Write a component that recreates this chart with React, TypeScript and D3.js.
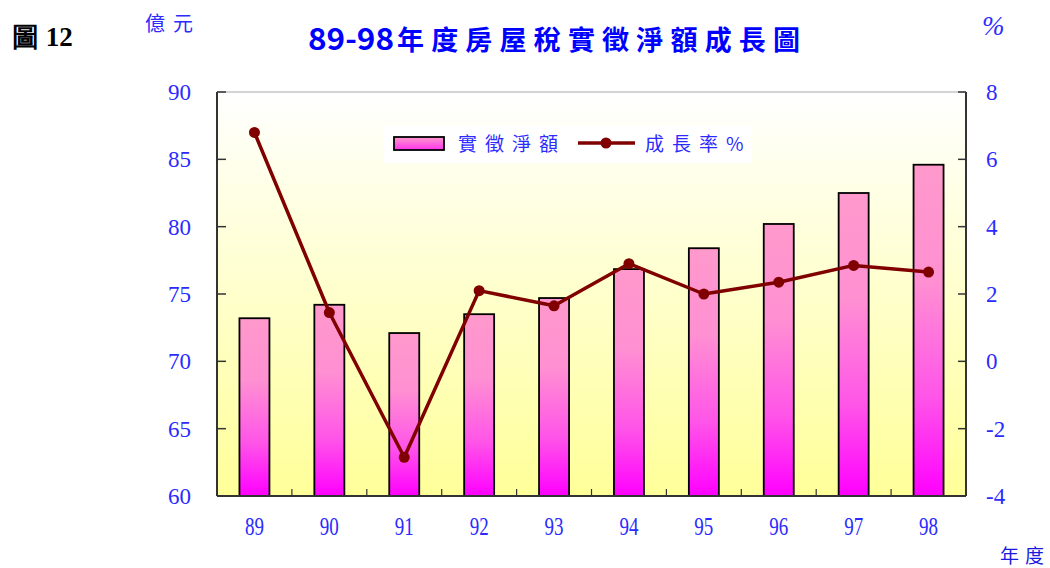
import React from "react";
import * as d3 from "d3";

const years = ["89", "90", "91", "92", "93", "94", "95", "96", "97", "98"];
const amounts = [73.2, 74.2, 72.1, 73.5, 74.7, 76.85, 78.4, 80.2, 82.5, 84.6];
const growth = [6.8, 1.45, -2.85, 2.1, 1.65, 2.9, 2.0, 2.35, 2.85, 2.65];
const leftTicks = [60, 65, 70, 75, 80, 85, 90];
const rightTicks = [-4, -2, 0, 2, 4, 6, 8];

const W = 1050, H = 568;
const L = 217, R = 966, T = 92, B = 496;
const blue = "#2b2bff";

export default function App() {
  const xb = d3.scaleBand<string>().domain(years).range([L, R]);
  const yL = d3.scaleLinear().domain([60, 90]).range([B, T]);
  const yR = d3.scaleLinear().domain([-4, 8]).range([B, T]);
  const cx = (yr: string) => (xb(yr) as number) + xb.bandwidth() / 2;
  const line = d3
    .line<number>()
    .x((_, i) => cx(years[i]))
    .y((d) => yR(d));

  return (
    <svg width={W} height={H} style={{ position: "absolute", left: 0, top: 0 }}>
      <defs>
        <linearGradient id="bg" x1="0" y1="0" x2="0" y2="1">
          <stop offset="0%" stopColor="#ffffff" />
          <stop offset="100%" stopColor="#ffff99" />
        </linearGradient>
        <linearGradient id="bar" x1="0" y1="0" x2="0" y2="1">
          <stop offset="0%" stopColor="#ff99cc" />
          <stop offset="35%" stopColor="#ff90d2" />
          <stop offset="70%" stopColor="#ff55e8" />
          <stop offset="100%" stopColor="#ff00ff" />
        </linearGradient>
        <linearGradient id="legbar" x1="0" y1="0" x2="0" y2="1">
          <stop offset="0%" stopColor="#ff99cc" />
          <stop offset="100%" stopColor="#ff33ee" />
        </linearGradient>
      </defs>
      <rect x={0} y={0} width={W} height={H} fill="#fff" />
      <rect x={L} y={T} width={R - L} height={B - T} fill="url(#bg)" />

      {/* legend background */}
      <rect x={384} y={126} width={368} height={37} fill="#fff" />

      {/* bars */}
      {years.map((yr, i) => (
        <rect
          key={yr}
          x={cx(yr) - 15}
          y={yL(amounts[i])}
          width={30}
          height={B - yL(amounts[i])}
          fill="url(#bar)"
          stroke="#000"
          strokeWidth={1.8}
        />
      ))}

      {/* axes frame */}
      <line x1={L} y1={T} x2={L} y2={B} stroke="#333" strokeWidth={2} />
      <line x1={R} y1={T} x2={R} y2={B} stroke="#333" strokeWidth={2} />
      <line x1={L} y1={B} x2={R} y2={B} stroke="#333" strokeWidth={2} />
      <line x1={L} y1={T} x2={R} y2={T} stroke="#555" strokeWidth={1} opacity={0.5} />

      {leftTicks.map((t) => (
        <g key={"l" + t}>
          <line x1={L} x2={L + 9} y1={yL(t)} y2={yL(t)} stroke="#333" strokeWidth={1.5} />
          <text
            x={191}
            y={yL(t) + 8}
            textAnchor="end"
            fontFamily="'Liberation Serif', serif"
            fontSize={23}
            fill={blue}
          >
            {t}
          </text>
        </g>
      ))}
      {rightTicks.map((t) => (
        <g key={"r" + t}>
          <line x1={R - 8} x2={R} y1={yR(t)} y2={yR(t)} stroke="#333" strokeWidth={1.5} />
          <text
            x={986}
            y={yR(t) + 8}
            textAnchor="start"
            fontFamily="'Liberation Serif', serif"
            fontSize={23}
            fill={blue}
          >
            {t}
          </text>
        </g>
      ))}
      {years.slice(1).map((yr) => (
        <line
          key={"xt" + yr}
          x1={xb(yr) as number}
          x2={xb(yr) as number}
          y1={B}
          y2={B - 7}
          stroke="#333"
          strokeWidth={1.2}
        />
      ))}
      {years.map((yr) => (
        <text
          key={"xl" + yr}
          x={0}
          y={0}
          textAnchor="middle"
          fontFamily="'Liberation Serif', serif"
          fontSize={25}
          fill={blue}
          transform={`translate(${cx(yr)}, 535) scale(0.76,1)`}
        >
          {yr}
        </text>
      ))}

      {/* line */}
      <path d={line(growth) || ""} fill="none" stroke="#800000" strokeWidth={3.5} strokeLinejoin="round" />
      {growth.map((g, i) => (
        <circle key={"c" + i} cx={cx(years[i])} cy={yR(g)} r={5.5} fill="#800000" />
      ))}

      {/* legend */}
      <rect x={394} y={137} width={50} height={13} fill="url(#legbar)" stroke="#000" strokeWidth={1.8} />
      <text x={458} y={151} fontFamily="'Noto Sans CJK TC', sans-serif" fontSize={19} fill={blue} letterSpacing={8}>
        實徵淨額
      </text>
      <line x1={578} x2={635} y1={143} y2={143} stroke="#800000" strokeWidth={3.5} />
      <circle cx={606} cy={143} r={5.5} fill="#800000" />
      <text x={645} y={151} fontFamily="'Noto Sans CJK TC', sans-serif" fontSize={19} fill={blue} letterSpacing={8}>
        成長率%
      </text>

      {/* titles */}
      <text x={12} y={46} fontFamily="'Liberation Serif', serif" fontWeight="bold" fontSize={27} fill="#000">
        圖 12
      </text>
      <text x={145} y={31} fontFamily="'Noto Sans CJK TC', sans-serif" fontSize={20} fill={blue} letterSpacing={8}>
        億元
      </text>
      <text
        x={308}
        y={50}
        fontFamily="'Noto Sans CJK TC', sans-serif"
        fontWeight="bold"
        fontSize={30}
        fill="#0000ff"
        textLength={86}
        lengthAdjust="spacingAndGlyphs"
      >
        89-98
      </text>
      <text
        x={397}
        y={50}
        fontFamily="'Noto Sans CJK TC', sans-serif"
        fontWeight="bold"
        fontSize={27}
        fill="#0000ff"
        textLength={403}
        lengthAdjust="spacing"
      >
        年度房屋稅實徵淨額成長圖
      </text>
      <text x={982} y={35} fontFamily="'Liberation Serif', serif" fontStyle="italic" fontSize={27} fill={blue}>
        %
      </text>
      <text x={1000} y={563} fontFamily="'Noto Sans CJK TC', sans-serif" fontSize={19} fill="#1a1add" letterSpacing={6}>
        年度
      </text>
    </svg>
  );
}
